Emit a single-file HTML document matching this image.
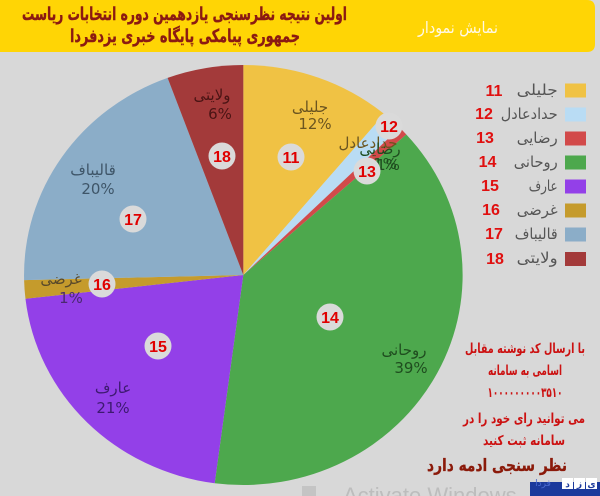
<!DOCTYPE html>
<html><head><meta charset="utf-8">
<style>
html,body{margin:0;padding:0;background:#d8d8d8;}
svg{display:block;}
</style></head>
<body>
<svg width="600" height="496" viewBox="0 0 600 496" xmlns="http://www.w3.org/2000/svg">
<rect width="600" height="496" fill="#d8d8d8"/>
<!-- header -->
<path d="M0,0 H587 Q595,0 595,8 V44 Q595,52 587,52 H0 Z" fill="#ffd505"/>
<g font-family="'DejaVu Sans','Liberation Sans',sans-serif" font-weight="bold" fill="#8b1a12" text-anchor="middle" stroke="#8b1a12" stroke-width="0.4">
<text x="184.5" y="20" font-size="18" textLength="325" lengthAdjust="spacingAndGlyphs">اولین نتیجه نظرسنجی یازدهمین دوره انتخابات ریاست</text>
<text x="185" y="42" font-size="18" textLength="230" lengthAdjust="spacingAndGlyphs">جمهوری پیامکی پایگاه خبری یزدفردا</text>
</g>
<text x="458" y="33" font-family="'DejaVu Sans','Liberation Sans',sans-serif" font-size="16" fill="#fff8e6" text-anchor="middle" textLength="80" lengthAdjust="spacingAndGlyphs">نمایش نمودار</text>

<!-- pie -->
<g transform="translate(243.3,275) scale(1.0443,1)">
<path d="M0,0 L0,-210 A210,210 0 0 1 135.0,-160.9 Z" fill="#f0c244"/>
<path d="M0,0 L135.0,-160.9 A210,210 0 0 1 149.8,-147.2 Z" fill="#b9dcf4"/>
<path d="M0,0 L149.8,-147.2 A210,210 0 0 1 156.1,-140.5 Z" fill="#d24a4a"/>
<path d="M0,0 L156.1,-140.5 A210,210 0 0 1 -27.4,208.2 Z" fill="#4da84d"/>
<path d="M0,0 L-27.4,208.2 A210,210 0 0 1 -208.6,23.8 Z" fill="#9340e8"/>
<path d="M0,0 L-208.6,23.8 A210,210 0 0 1 -209.9,5.1 Z" fill="#c59b2c"/>
<path d="M0,0 L-209.9,5.1 A210,210 0 0 1 -72.5,-197.1 Z" fill="#8badc8"/>
<path d="M0,0 L-72.5,-197.1 A210,210 0 0 1 0,-210 Z" fill="#a33a3a"/>
</g>

<!-- pie labels -->
<g font-family="'DejaVu Sans','Liberation Sans',sans-serif" font-size="15" text-anchor="middle">
<text x="310" y="112" fill="#6b5520">جلیلی</text>
<text x="315" y="129" fill="#6b5520">12%</text>
<text x="212" y="100" fill="#4a1414">ولایتی</text>
<text x="220" y="119" fill="#4a1414">6%</text>
<text x="93" y="175" fill="#3e5568">قالیباف</text>
<text x="98" y="194" fill="#3e5568">20%</text>
<text x="61" y="284" fill="#5a4a2a">غرضی</text>
<text x="71" y="303" fill="#4a2a70">1%</text>
<text x="113" y="393" fill="#3d1a70">عارف</text>
<text x="113" y="413" fill="#3d1a70">21%</text>
<text x="404" y="355" fill="#1f4d1f">روحانی</text>
<text x="411" y="373" fill="#1f4d1f">39%</text>
<text x="368" y="148" fill="#6b5520">حدادعادل</text>
<text x="380" y="154" fill="#1f4d1f">رضایی</text>
<text x="388" y="170" fill="#1f4d1f">1%</text>
<text x="385" y="169" fill="#1f4d1f">1%</text>
</g>

<!-- badges -->
<g fill="#dadada">
<circle cx="291" cy="157" r="13.5"/>
<circle cx="389" cy="126" r="13.5"/>
<circle cx="367" cy="171" r="13.5"/>
<circle cx="330" cy="317" r="13.5"/>
<circle cx="158" cy="346" r="13.5"/>
<circle cx="102" cy="284" r="13.5"/>
<circle cx="133" cy="219" r="13.5"/>
<circle cx="222" cy="156" r="13.5"/>
</g>
<g font-family="'Liberation Sans',sans-serif" font-weight="bold" font-size="16" fill="#e00000" text-anchor="middle">
<text x="291" y="163">11</text>
<text x="389" y="132">12</text>
<text x="367" y="177">13</text>
<text x="330" y="323">14</text>
<text x="158" y="352">15</text>
<text x="102" y="290">16</text>
<text x="133" y="225">17</text>
<text x="222" y="162">18</text>
</g>

<!-- legend -->
<g>
<rect x="565" y="83.5" width="21" height="14" fill="#f0c244"/>
<rect x="565" y="107.5" width="21" height="14" fill="#b9dcf4"/>
<rect x="565" y="131.5" width="21" height="14" fill="#d24a4a"/>
<rect x="565" y="155.5" width="21" height="14" fill="#4da84d"/>
<rect x="565" y="179.5" width="21" height="14" fill="#9340e8"/>
<rect x="565" y="203.5" width="21" height="14" fill="#c59b2c"/>
<rect x="565" y="227.5" width="21" height="14" fill="#8badc8"/>
<rect x="565" y="252" width="21" height="14" fill="#a33a3a"/>
</g>
<g font-family="'DejaVu Sans','Liberation Sans',sans-serif" font-size="15" fill="#555" text-anchor="end">
<text x="557.7" y="95" textLength="41" lengthAdjust="spacingAndGlyphs">جلیلی</text>
<text x="557.7" y="119" textLength="57" lengthAdjust="spacingAndGlyphs">حدادعادل</text>
<text x="557.7" y="143" textLength="41" lengthAdjust="spacingAndGlyphs">رضایی</text>
<text x="557.7" y="167" textLength="44" lengthAdjust="spacingAndGlyphs">روحانی</text>
<text x="557.7" y="191" textLength="29" lengthAdjust="spacingAndGlyphs">عارف</text>
<text x="557.7" y="215" textLength="41" lengthAdjust="spacingAndGlyphs">غرضی</text>
<text x="557.7" y="239" textLength="43" lengthAdjust="spacingAndGlyphs">قالیباف</text>
<text x="557.7" y="263" textLength="41" lengthAdjust="spacingAndGlyphs">ولایتی</text>
</g>
<g font-family="'Liberation Sans',sans-serif" font-weight="bold" font-size="16" fill="#e01010" text-anchor="middle">
<text x="494" y="96">11</text>
<text x="484" y="119">12</text>
<text x="485" y="143">13</text>
<text x="487.5" y="167">14</text>
<text x="490" y="191">15</text>
<text x="491" y="215">16</text>
<text x="494" y="239">17</text>
<text x="495" y="264">18</text>
</g>

<!-- right text block -->
<g font-family="'DejaVu Sans','Liberation Sans',sans-serif" font-weight="bold" font-size="13.5" fill="#cc1111" text-anchor="middle">
<text x="525" y="353" textLength="120" lengthAdjust="spacingAndGlyphs">با ارسال کد نوشته مقابل</text>
<text x="525" y="375" textLength="74" lengthAdjust="spacingAndGlyphs">اسامی به سامانه</text>
<text x="525" y="397" textLength="75" lengthAdjust="spacingAndGlyphs">۱۰۰۰۰۰۰۰۰۰۳۵۱۰</text>
<text x="524" y="423" textLength="122" lengthAdjust="spacingAndGlyphs">می توانید رای خود را در</text>
<text x="524" y="445" textLength="82" lengthAdjust="spacingAndGlyphs">سامانه ثبت کنید</text>
</g>
<text x="497" y="471" font-family="'DejaVu Sans','Liberation Sans',sans-serif" font-weight="bold" font-size="17" fill="#8b1a0a" text-anchor="middle" stroke="#8b1a0a" stroke-width="0.3" textLength="140" lengthAdjust="spacingAndGlyphs">نظر سنجی ادمه دارد</text>

<!-- watermark -->
<text x="343" y="503" font-family="'Liberation Sans',sans-serif" font-size="22" fill="#bdbdbd">Activate Windows</text>
<rect x="302" y="486" width="14" height="10" fill="#c4c4c4"/>

<!-- bottom logo -->
<rect x="530" y="482" width="70" height="14" fill="#1c3a9c"/>
<text x="543" y="486" font-family="'DejaVu Sans',sans-serif" font-size="9" fill="#4a6ad0" text-anchor="middle">فردا</text>
<rect x="562" y="478" width="11" height="11" fill="#fff"/>
<rect x="574" y="478" width="11" height="11" fill="#fff"/>
<rect x="586" y="478" width="11" height="11" fill="#fff"/>
<g font-family="'DejaVu Sans',sans-serif" font-size="9" font-weight="bold" fill="#1c3a9c" text-anchor="middle">
<text x="567.5" y="487">د</text>
<text x="579.5" y="487">ز</text>
<text x="591.5" y="487">ی</text>
</g>
</svg>
</body></html>
